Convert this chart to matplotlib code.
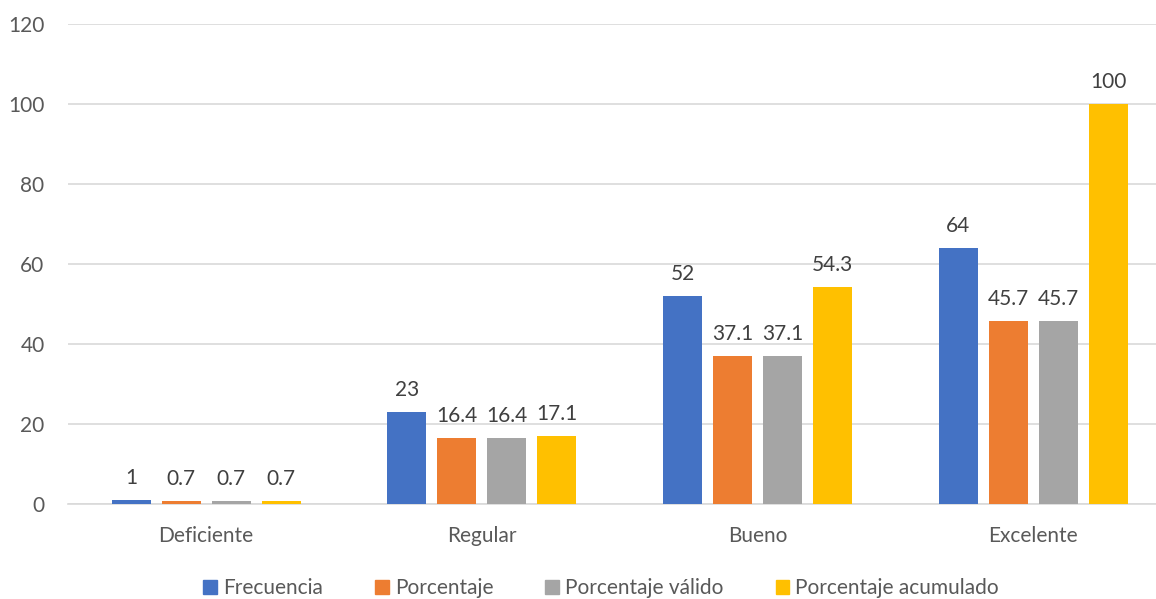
import numpy as np
import matplotlib.pyplot as plt
from matplotlib.patches import Patch

categorias = ["Deficiente", "Regular", "Bueno", "Excelente"]
series = ["Frecuencia", "Porcentaje", "Porcentaje válido", "Porcentaje acumulado"]
frecuencia = [1, 23, 52, 64]
porcentaje = [0.7, 16.4, 37.1, 45.7]
porcentaje_valido = [0.7, 16.4, 37.1, 45.7]
porcentaje_acumulado = [0.7, 17.1, 54.3, 100]
yticks = [0, 20, 40, 60, 80, 100, 120]

colores = ["#4472C4", "#ED7D31", "#A5A5A5", "#FFC000"]

plt.rcParams['font.family'] = ['Lato', 'DejaVu Sans']

fig = plt.figure(figsize=(11.56, 5.99), dpi=100)
ax = fig.add_axes([0.059, 0.1586, 0.954, 0.801])

valores = [frecuencia, porcentaje, porcentaje_valido, porcentaje_acumulado]
x = np.arange(len(categorias))
paso = 0.1814
ancho = 0.1415
for i, (nombre, vals) in enumerate(zip(series, valores)):
    pos = x + (i - 1.5) * paso
    bars = ax.bar(pos, vals, width=ancho, color=colores[i], label=nombre, zorder=3)
    for b, v in zip(bars, vals):
        ax.text(b.get_x() + b.get_width() / 2, v + 3, f"{v:g}",
                ha='center', va='bottom', fontsize=15, color='#404040')

ax.set_xlim(-0.5, 3.5)
ax.set_ylim(0, 120)
ax.set_yticks(yticks)
ax.set_xticks(x)
ax.set_xticklabels(categorias)
ax.tick_params(axis='both', length=0, labelsize=15, colors='#595959')
ax.tick_params(axis='x', pad=16)
ax.tick_params(axis='y', pad=17)
ax.yaxis.grid(True, color='#D9D9D9', linewidth=1.2, zorder=0)
for s in ['top', 'right', 'left']:
    ax.spines[s].set_visible(False)
ax.spines['bottom'].set_color('#D9D9D9')
ax.spines['bottom'].set_linewidth(1.2)

handles = [Patch(color=c, label=n) for c, n in zip(colores, series)]
leg = fig.legend(handles=handles, loc='center', bbox_to_anchor=(0.52, 0.018),
                 ncol=4, frameon=False, fontsize=15, handlelength=0.65,
                 handleheight=0.65, handletextpad=0.3, columnspacing=2.5)
for t in leg.get_texts():
    t.set_color('#595959')

fig.savefig("out.png", dpi=100)
